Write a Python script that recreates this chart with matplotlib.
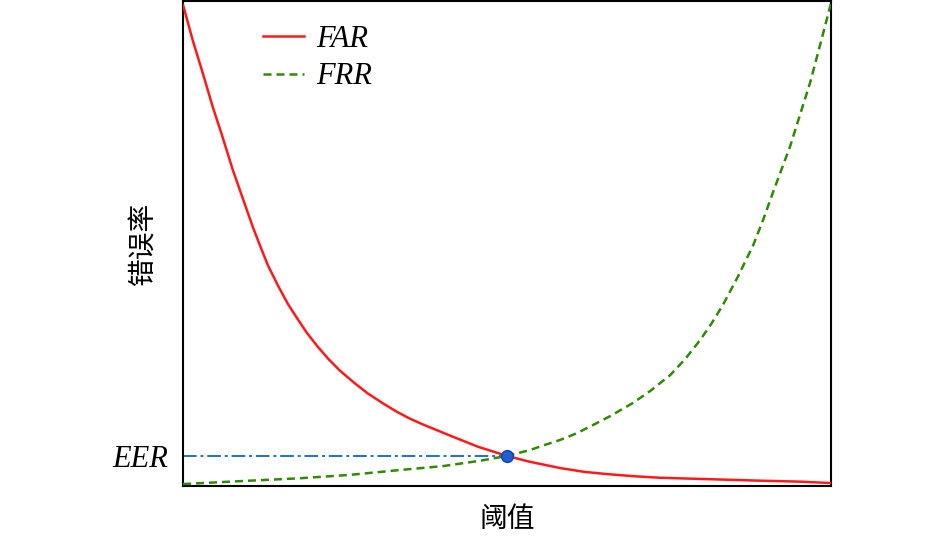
import matplotlib
matplotlib.use('Agg')
import matplotlib.pyplot as plt

plt.rcParams['font.family'] = ['Liberation Serif', 'Noto Sans CJK SC']

# 阈值 / 错误率 (归一化)
far_x = [0.000, 0.015, 0.031, 0.046, 0.059, 0.077, 0.093, 0.108, 0.119, 0.131,
         0.147, 0.162, 0.176, 0.191, 0.208, 0.225, 0.242, 0.264, 0.285, 0.309,
         0.330, 0.350, 0.370, 0.412, 0.455, 0.500, 0.535, 0.582, 0.620, 0.659,
         0.698, 0.736, 0.813, 0.890, 0.952, 1.000]
far_y = [0.992, 0.919, 0.849, 0.781, 0.728, 0.651, 0.590, 0.533, 0.495, 0.455,
         0.412, 0.375, 0.346, 0.316, 0.287, 0.261, 0.238, 0.213, 0.191, 0.170,
         0.153, 0.139, 0.127, 0.104, 0.081, 0.062, 0.050, 0.037, 0.029, 0.024,
         0.020, 0.017, 0.014, 0.011, 0.009, 0.006]

frr_x = [0.000, 0.088, 0.181, 0.258, 0.335, 0.401, 0.458, 0.500, 0.535, 0.559,
         0.582, 0.608, 0.633, 0.659, 0.694, 0.721, 0.752, 0.775, 0.798, 0.816,
         0.833, 0.856, 0.880, 0.895, 0.910, 0.937, 0.952, 0.968, 0.983, 1.000]
frr_y = [0.004, 0.010, 0.016, 0.023, 0.033, 0.041, 0.052, 0.062, 0.074, 0.085,
         0.095, 0.109, 0.126, 0.144, 0.171, 0.196, 0.229, 0.262, 0.301, 0.336,
         0.373, 0.431, 0.497, 0.548, 0.604, 0.701, 0.765, 0.833, 0.909, 0.996]

eer_x = 0.500
eer_y = 0.062

fig = plt.figure(figsize=(9.45, 5.4), dpi=100)
ax = fig.add_axes([0.1937, 0.1, 0.6857, 0.898])

ax.plot(far_x, far_y, color='#ff1a1a', lw=1.8, label='FAR', zorder=3,
        solid_joinstyle='round')
ax.plot(frr_x, frr_y, color='#2e8a00', lw=1.8, ls=(0, (3.2, 2.0)), label='FRR', zorder=3)
ax.plot([0, eer_x], [eer_y, eer_y], color='#1f6fd6', lw=1.4,
        ls=(0, (7, 2, 1.5, 2)), zorder=2)
ax.plot(eer_x, eer_y, 'o', ms=8.5, mfc='#1f5fcf', mec='#1040b0', mew=1, zorder=4)

ax.set_xlim(0, 1)
ax.set_ylim(0, 1)
ax.set_xticks([])
ax.set_yticks([eer_y])
ax.set_yticklabels(['EER'], fontsize=22, fontstyle='italic')
ax.tick_params(axis='y', length=0, pad=10.5)
for s in ax.spines.values():
    s.set_linewidth(1.5)

ax.set_xlabel('阈值', fontsize=20)
ax.xaxis.set_label_coords(0.5, -0.043)
ax.set_ylabel('错误率', fontsize=20)
ax.yaxis.set_label_coords(-0.039, 0.5)

ax.legend(loc='upper left', bbox_to_anchor=(0.100, 0.982), frameon=False,
          prop=dict(family='Liberation Serif', style='italic', size=22),
          borderpad=0, handlelength=1.35, handletextpad=0.4, labelspacing=0.27)

fig.savefig('out.png', dpi=100)
